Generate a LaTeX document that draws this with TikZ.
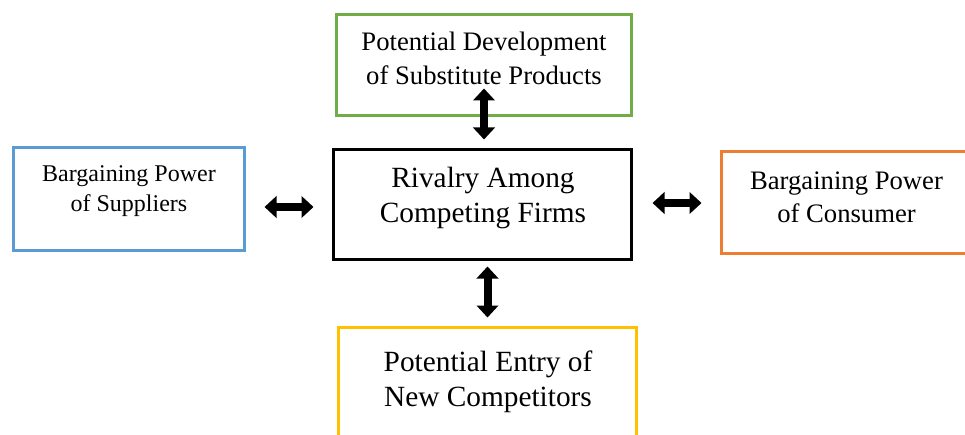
\documentclass[tikz,border=0pt]{standalone}
\usepackage{fontspec}
\setmainfont{Liberation Serif}
\usepackage{tikz}
\usetikzlibrary{arrows.meta,calc}

\definecolor{forcegreen}{HTML}{70AD47}
\definecolor{forceblue}{HTML}{5B9BD5}
\definecolor{forceorange}{HTML}{ED7D31}
\definecolor{forceyellow}{HTML}{FFC000}

\tikzset{
	forcebox/.style={draw=#1,line width=2.25pt,rectangle,inner sep=0pt},
	forcetext/.style={align=center,inner sep=0pt},
	twoway/.style={line width=6pt,{Triangle[width=16pt,length=9pt]}-{Triangle[width=16pt,length=9pt]}}
}

\begin{document}
\begin{tikzpicture}[x=0.75pt,y=-0.75pt]
		\useasboundingbox (0,0) rectangle (965,435);
		% the five boxes
		\node[forcebox=forcegreen,minimum width=221.25pt,minimum height=75.75pt] (substitutes) at (484,65) {};
		\node[forcebox=forceblue,minimum width=173.25pt,minimum height=77.25pt] (suppliers) at (129,199) {};
		\node[forcebox=black,minimum width=223.5pt,minimum height=82.5pt] (rivalry) at (482.5,204.5) {};
		\node[forcebox=forceorange,minimum width=187.5pt,minimum height=76.5pt] (consumer) at (846.5,202.5) {};
		\node[forcebox=forceyellow,minimum width=223.5pt,minimum height=84pt] (entry) at (487.5,383.5) {};
		%% the labels
		\node[forcetext,font=\fontsize{20}{25.5}\selectfont] (substitutes text) at (484,58) {Potential Development\\of Substitute Products};
		\node[forcetext,font=\fontsize{18}{22.5}\selectfont] (suppliers text) at (129,191) {Bargaining Power\\of Suppliers};
		\node[forcetext,font=\fontsize{22}{26}\selectfont] (rivalry text) at (483,198) {Rivalry Among\\Competing Firms};
		\node[forcetext,font=\fontsize{20}{25}\selectfont] (consumer text) at (846.5,197) {Bargaining Power\\of Consumer};
		\node[forcetext,font=\fontsize{22}{26}\selectfont] (entry text) at (488,382) {Potential Entry of\\New Competitors};
		% double-headed arrows around the centre box
		\draw[twoway] ($(substitutes.south |- rivalry.north)+(0,-8.5)$) -- ($(substitutes.south)+(0,-28.5)$);
		\draw[twoway] ($(suppliers.east |- rivalry.west)+(18.5,2.5)$) -- ($(rivalry.west)+(-18.5,2.5)$);
		\draw[twoway] ($(rivalry.east)+(19.5,-1.5)$) -- ($(consumer.west |- rivalry.east)+(-18.5,-1.5)$);
		\draw[twoway] ($(entry.north |- rivalry.south)+(0,5.5)$) -- ($(entry.north)+(0,-8.5)$);
\end{tikzpicture}
\end{document}
